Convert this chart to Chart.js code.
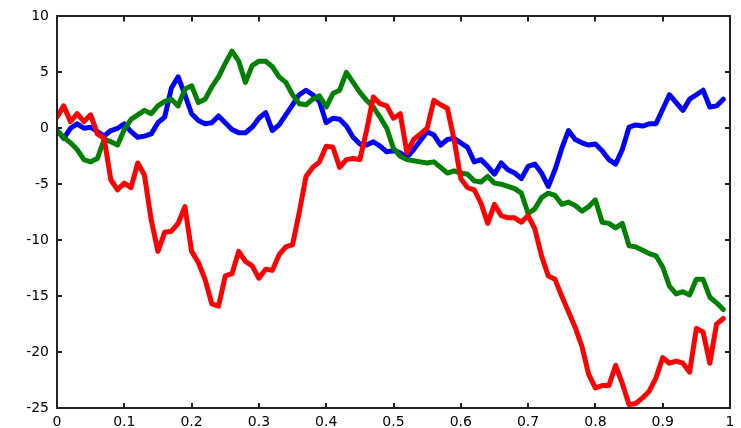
<!DOCTYPE html>
<html>
<head>
<meta charset="utf-8">
<script src="https://cdn.jsdelivr.net/npm/chart.js@4/dist/chart.umd.min.js"></script>
<style>
  html, body { margin: 0; padding: 0; background: #fff; }
  #wrap { width: 741px; height: 428px; }
</style>
</head>
<body>
<div id="wrap"><canvas id="c" width="741" height="428"></canvas></div>
<script>
/* ── Data: three random walks sampled every 0.01 from 0 to 0.99 ── */
const dt = 0.01;
const xTicks = [0, 0.1, 0.2, 0.3, 0.4, 0.5, 0.6, 0.7, 0.8, 0.9, 1];
const yTicks = [-25, -20, -15, -10, -5, 0, 5, 10];

const blueWalk = [
  -0.2, -0.9, 0.0, 0.4, 0.0, 0.1, -0.3, -0.7, -0.2, 0.0,
  0.4, -0.3, -0.8, -0.7, -0.5, 0.5, 1.0, 3.6, 4.6, 3.0,
  1.3, 0.7, 0.4, 0.5, 1.1, 0.5, -0.1, -0.4, -0.4, 0.1,
  0.9, 1.4, -0.2, 0.3, 1.2, 2.1, 3.0, 3.4, 3.0, 2.4,
  0.5, 0.9, 0.8, 0.2, -0.8, -1.4, -1.5, -1.2, -1.6, -2.1,
  -2.0, -2.2, -2.6, -1.9, -1.1, -0.3, -0.6, -1.5, -1.0, -0.9,
  -1.3, -1.7, -3.0, -2.8, -3.4, -4.1, -3.1, -3.7, -4.0, -4.5,
  -3.4, -3.2, -4.0, -5.2, -3.7, -1.8, -0.2, -1.0, -1.3, -1.5,
  -1.4, -2.0, -2.8, -3.2, -1.9, 0.1, 0.3, 0.2, 0.4, 0.4,
  1.7, 3.0, 2.3, 1.6, 2.6, 3.0, 3.4, 1.9, 2.0, 2.6
];
const greenWalk = [
  -0.2, -0.8, -1.3, -1.9, -2.8, -3.0, -2.7, -1.0, -1.2, -1.5,
  -0.1, 0.8, 1.2, 1.6, 1.3, 2.0, 2.4, 2.6, 2.0, 3.5,
  3.8, 2.3, 2.6, 3.7, 4.6, 5.8, 6.9, 6.0, 4.1, 5.6,
  6.0, 6.0, 5.5, 4.6, 4.1, 3.0, 2.2, 2.1, 2.6, 2.9,
  1.9, 3.1, 3.4, 5.0, 4.1, 3.2, 2.5, 1.9, 1.0, 0.0,
  -1.8, -2.5, -2.8, -2.9, -3.0, -3.1, -3.0, -3.5, -4.0, -3.8,
  -4.0, -4.1, -4.7, -4.8, -4.3, -4.9, -5.0, -5.2, -5.4, -5.8,
  -7.6, -7.2, -6.2, -5.8, -6.0, -6.8, -6.6, -6.9, -7.4, -7.0,
  -6.4, -8.4, -8.5, -8.9, -8.5, -10.5, -10.6, -10.9, -11.2, -11.4,
  -12.4, -14.1, -14.8, -14.6, -14.9, -13.5, -13.5, -15.1, -15.6, -16.2
];
const redWalk = [
  1.0, 2.0, 0.6, 1.3, 0.6, 1.2, -0.5, -0.9, -4.6, -5.5,
  -4.9, -5.3, -3.1, -4.2, -8.2, -11.0, -9.3, -9.2, -8.5, -7.0,
  -11.0, -12.0, -13.5, -15.7, -15.9, -13.2, -13.0, -11.0, -11.9, -12.3,
  -13.4, -12.6, -12.7, -11.3, -10.6, -10.4, -7.5, -4.3, -3.5, -3.0,
  -1.6, -1.7, -3.5, -2.8, -2.7, -2.8, -0.2, 2.8, 2.2, 2.0,
  0.9, 1.3, -2.2, -1.0, -0.5, 0.0, 2.5, 2.1, 1.8, -1.0,
  -4.5, -5.3, -5.5, -6.7, -8.5, -6.8, -7.8, -8.0, -8.0, -8.4,
  -7.8, -9.0, -11.4, -13.2, -13.5, -15.0, -16.4, -17.8, -19.5, -22.0,
  -23.2, -23.0, -23.0, -21.2, -22.8, -24.7, -24.6, -24.1, -23.5, -22.3,
  -20.5, -21.0, -20.8, -21.0, -21.8, -17.9, -18.2, -21.0, -17.5, -17.0
];

const toPts = arr => arr.map((v, i) => ({ x: +(i * dt).toFixed(2), y: v }));

/* ── Box with inward ticks on all four sides (matlab style) ── */
const boxTicks = {
  id: 'boxTicks',
  afterDraw(chart) {
    const { ctx, chartArea: a, scales: { x, y } } = chart;
    const L = 5;
    ctx.save();
    ctx.strokeStyle = '#222';
    ctx.lineWidth = 2;
    ctx.beginPath();
    ctx.rect(Math.round(a.left), Math.round(a.top), Math.round(a.right - a.left), Math.round(a.bottom - a.top));
    xTicks.forEach(v => {
      const px = Math.round(x.getPixelForValue(v));
      ctx.moveTo(px, a.bottom); ctx.lineTo(px, a.bottom - L);
      ctx.moveTo(px, a.top);    ctx.lineTo(px, a.top + L);
    });
    yTicks.forEach(v => {
      const py = Math.round(y.getPixelForValue(v));
      ctx.moveTo(a.left, py);  ctx.lineTo(a.left + L, py);
      ctx.moveTo(a.right, py); ctx.lineTo(a.right - L, py);
    });
    ctx.stroke();
    ctx.restore();
  }
};

const lineSet = (data, color, order) => ({
  data: toPts(data), borderColor: color, backgroundColor: color,
  borderWidth: 5, pointRadius: 0, tension: 0, order,
  borderJoinStyle: 'round', borderCapStyle: 'round'
});

Chart.defaults.font.family = '"DejaVu Sans", Verdana, sans-serif';
Chart.defaults.font.size = 14;
Chart.defaults.color = '#000';

new Chart(document.getElementById('c'), {
  type: 'line',
  data: {
    datasets: [
      lineSet(blueWalk,  '#0000ff', 3),
      lineSet(greenWalk, '#008000', 2),
      lineSet(redWalk,   '#ff0000', 1)
    ]
  },
  options: {
    responsive: false,
    animation: false,
    layout: { padding: { top: 15, right: 11, left: 0, bottom: 0 } },
    plugins: { legend: { display: false }, tooltip: { enabled: false } },
    scales: {
      x: {
        type: 'linear', min: 0, max: 1,
        afterBuildTicks: s => { s.ticks = xTicks.map(v => ({ value: v })); },
        afterFit: s => { s.height = 20; },
        grid: { display: false, drawTicks: false },
        border: { display: false },
        ticks: { padding: 6, maxRotation: 0, autoSkip: false, callback: v => String(v) }
      },
      y: {
        type: 'linear', min: -25, max: 10,
        afterBuildTicks: s => { s.ticks = yTicks.map(v => ({ value: v })); },
        afterFit: s => { s.width = 57; },
        grid: { display: false, drawTicks: false },
        border: { display: false },
        ticks: { padding: 8, autoSkip: false, callback: v => String(v) }
      }
    }
  },
  plugins: [boxTicks]
});
</script>
</body>
</html>
